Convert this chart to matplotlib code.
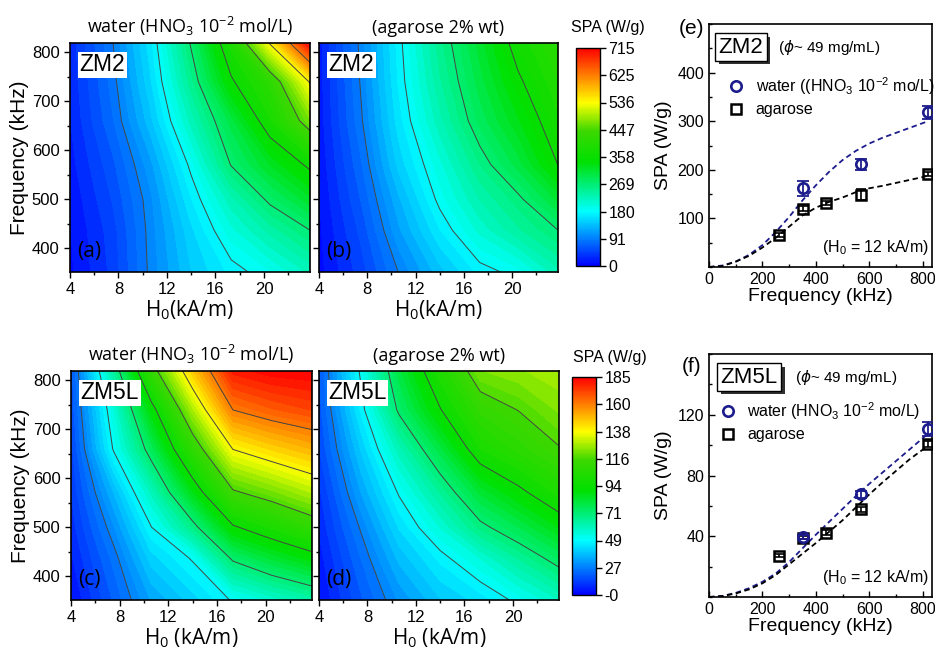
import matplotlib
matplotlib.use("Agg")
import matplotlib.pyplot as plt
import numpy as np
from matplotlib.colors import LinearSegmentedColormap, Normalize
from matplotlib.cm import ScalarMappable
from matplotlib.ticker import MultipleLocator
from matplotlib.patheffects import withSimplePatchShadow

plt.rcParams['font.family'] = ['Liberation Sans', 'DejaVu Sans']
plt.rcParams['axes.linewidth'] = 1.2

# --- SPA maps: H0 (kA/m) x frequency (kHz) grid, values in W/g ---
h0_grid = [4.0, 7.5, 10.6, 14.0, 17.3, 20.5, 23.8]
freq_grid = [352, 437, 500, 571, 660, 740, 819]

zm2_water_map = [
    [10, 42, 93, 140, 170, 190, 220],
    [12, 45, 95, 150, 200, 235, 268],
    [15, 52, 98, 165, 225, 275, 315],
    [20, 60, 110, 185, 270, 320, 365],
    [25, 75, 135, 222, 300, 380, 470],
    [28, 82, 150, 250, 352, 415, 540],
    [30, 88, 160, 272, 390, 540, 712],
]
zm2_agarose_map = [
    [8, 45, 90, 135, 170, 186, 225],
    [10, 55, 112, 165, 208, 240, 268],
    [12, 65, 125, 185, 230, 262, 310],
    [15, 75, 145, 200, 255, 300, 358],
    [18, 87, 160, 225, 285, 330, 380],
    [19, 92, 168, 240, 300, 352, 395],
    [20, 95, 172, 250, 312, 372, 412],
]
zm5l_water_map = [
    [3, 17, 30, 38, 47, 54, 60],
    [6, 21, 38, 47, 71, 80, 88],
    [8, 26, 46, 66, 91, 100, 109],
    [10, 33, 57, 85, 114, 121, 129],
    [12, 47, 74, 108, 139, 146, 152],
    [14, 52, 88, 128, 162, 168, 172],
    [15, 62, 110, 148, 180, 184, 185],
]
zm5l_agarose_map = [
    [3, 16, 27, 36, 41, 48, 56],
    [5, 20, 34, 44, 53, 63, 73],
    [7, 24, 40, 53, 67, 76, 86],
    [9, 30, 47, 63, 80, 90, 101],
    [13, 37, 58, 78, 99, 107, 115],
    [15, 44, 71, 92, 110, 116, 123],
    [16, 48, 78, 102, 122, 125, 128],
]
zm2_max = 715
zm5l_max = 185
zm2_cbar_labels = ['0', '91', '180', '269', '358', '447', '536', '625', '715']
zm5l_cbar_labels = ['-0', '27', '49', '71', '94', '116', '138', '160', '185']

# --- SPA vs frequency at H0 = 12 kA/m ---
freq_meas = [263, 352, 437, 571, 819]
freq_water = [352, 571, 819]
zm2_water_spa = [162, 211, 318]
zm2_water_err = [15, 11, 14]
zm2_agarose_spa = [66, 120, 131, 149, 192]
zm2_agarose_err = [4, 5, 4, 12, 4]
zm5l_water_spa = [39.6, 67.5, 110.6]
zm5l_water_err = [1.5, 2, 4.5]
zm5l_agarose_spa = [27.3, 39, 42.4, 57.7, 100.8]
zm5l_agarose_err = [1, 1, 1.5, 1.5, 2]

fit_freq = [0, 50, 100, 150, 200, 250, 300, 350, 400, 450, 500, 550, 600,
            650, 700, 750, 800, 820]
zm2_water_fit = [0, 3, 11, 25, 45, 72, 103, 137, 168, 196, 220, 239, 254,
                 266, 276, 286, 296, 300]
zm2_agarose_fit = [0, 2, 11, 23, 40, 60, 83, 106, 122, 134, 143, 154, 162,
                   167, 173, 179, 185, 188]
zm5l_water_fit = [0, 0.7, 2.7, 5.8, 10, 15.5, 23, 32, 41, 49.5, 58, 66.5,
                  74.5, 82, 89.5, 97, 104.5, 107.5]
zm5l_agarose_fit = [0, 0.6, 2.3, 5, 9, 14.5, 21.5, 28.5, 35.5, 43, 50.5, 59,
                    67.5, 75.5, 83, 90.5, 97, 99.5]

navy = '#1c1c8c'
rainbow = LinearSegmentedColormap.from_list(
    'origin_rainbow',
    [(0.0, '#0000ff'), (0.25, '#00ffff'), (0.48, '#00e000'),
     (0.62, '#3cd800'), (0.75, '#ffff00'), (1.0, '#ff0000')])

fig = plt.figure(figsize=(9.35, 6.5), dpi=100)


def px_axes(left, top, right, bottom):
    return fig.add_axes([left / 935, 1 - bottom / 650,
                         (right - left) / 935, (bottom - top) / 650])


def draw_map(ax, spa, vmax, title, tag, letter, xlabel, first):
    hh, ff = np.meshgrid(h0_grid, freq_grid)
    z = np.array(spa, dtype=float)
    ax.contourf(hh, ff, z, levels=np.linspace(0, vmax, 57), cmap=rainbow,
                vmin=0, vmax=vmax)
    ax.contour(hh, ff, z, levels=np.linspace(0, vmax, 9)[1:-1],
               colors='#454545', linewidths=0.7)
    ax.set_xlim(h0_grid[0], h0_grid[-1])
    ax.set_ylim(freq_grid[0], freq_grid[-1])
    ax.set_xticks([4, 8, 12, 16, 20])
    ax.set_yticks([400, 500, 600, 700, 800])
    ax.xaxis.set_minor_locator(MultipleLocator(2))
    ax.yaxis.set_minor_locator(MultipleLocator(50))
    ax.tick_params(which='both', direction='out', labelsize=12, width=1)
    ax.tick_params(which='major', length=4)
    ax.tick_params(which='minor', length=2.5)
    if first:
        ax.set_ylabel('Frequency (kHz)', fontsize=15, labelpad=2)
    else:
        ax.tick_params(labelleft=False)
    ax.set_xlabel(xlabel, fontsize=15, family='Open Sans', labelpad=1)
    ax.set_title(title, fontsize=13, family='Open Sans', pad=7)
    ax.text(0.04, 0.905, tag, transform=ax.transAxes, fontsize=16.5,
            ha='left', va='center',
            bbox=dict(boxstyle='square,pad=0.06', fc='white', ec='none'))
    ax.text(0.03, 0.09, letter, transform=ax.transAxes, fontsize=15,
            family='Open Sans', ha='left', va='center')


def draw_cbar(cax, vmax, labels, tx, ty):
    sm = ScalarMappable(norm=Normalize(0, vmax), cmap=rainbow)
    cb = fig.colorbar(sm, cax=cax, ticks=np.linspace(0, vmax, 9))
    cb.set_ticklabels(labels)
    cb.outline.set_linewidth(1)
    cax.tick_params(direction='out', length=4, width=1, labelsize=11.5, pad=2)
    cax.text(tx, ty, 'SPA (W/g)', transform=cax.transAxes, fontsize=11.5,
             ha='center', va='center')


def draw_scan(ax, ymax, yticks, ystep, water_spa, water_err, agar_spa, agar_err,
              water_fit, agar_fit, tag, tag_x, water_label, leg_x, leg_y,
              phi_x, letter, letter_y):
    ax.plot(fit_freq, water_fit, color=navy, lw=1.3, ls=(0, (3, 2)), zorder=2)
    ax.plot(fit_freq, agar_fit, color='black', lw=1.3, ls=(0, (3, 2)), zorder=2)
    ax.errorbar(freq_meas, agar_spa, yerr=agar_err, fmt='none', ecolor='black',
                elinewidth=1.2, capsize=3.5, capthick=1.2, zorder=3)
    ax.errorbar(freq_water, water_spa, yerr=water_err, fmt='none', ecolor=navy,
                elinewidth=1.3, capsize=4, capthick=1.3, zorder=4)
    agar, = ax.plot(freq_meas, agar_spa, 's', mfc='none', mec='black', ms=6.5,
                    mew=1.8, zorder=3, label='agarose')
    water, = ax.plot(freq_water, water_spa, 'o', mfc='none', mec=navy, ms=7.5,
                     mew=1.9, zorder=4, label=water_label)
    ax.set_xlim(0, 835)
    ax.set_ylim(0, ymax)
    ax.set_xticks([0, 200, 400, 600, 800])
    ax.set_yticks(yticks)
    ax.xaxis.set_minor_locator(MultipleLocator(100))
    ax.yaxis.set_minor_locator(MultipleLocator(ystep))
    ax.tick_params(which='both', direction='in', labelsize=11.5, width=1)
    ax.tick_params(which='major', length=4.5)
    ax.tick_params(which='minor', length=2.5)
    ax.set_xlabel('Frequency (kHz)', fontsize=14, labelpad=1)
    ax.set_ylabel('SPA (W/g)', fontsize=14, labelpad=4)
    ax.legend(handles=[water, agar], loc='upper left',
              bbox_to_anchor=(leg_x, leg_y), frameon=False, fontsize=11.5,
              borderaxespad=0, borderpad=0, handlelength=1.2,
              handletextpad=0.6, labelspacing=0.35)
    box = ax.text(tag_x, 0.905, tag, transform=ax.transAxes, fontsize=16,
                  ha='center', va='center', zorder=6,
                  bbox=dict(boxstyle='square,pad=0.15', fc='white',
                            ec='black', lw=1))
    box.get_bbox_patch().set_path_effects(
        [withSimplePatchShadow(offset=(2.5, -2.5), shadow_rgbFace='#303030',
                               alpha=1.0)])
    ax.text(phi_x, 0.905, r'($\phi$~ 49 mg/mL)', transform=ax.transAxes,
            fontsize=11, ha='left', va='center')
    ax.text(0.985, 0.08, r'(H$\mathregular{_0}$ = 12 kA/m)',
            transform=ax.transAxes, fontsize=11.5, ha='right', va='center')
    ax.text(-0.08, letter_y, letter, transform=ax.transAxes, fontsize=15,
            ha='center', va='center')


ax_a = px_axes(70, 43, 310, 272)
ax_b = px_axes(319, 43, 558, 272)
cax1 = px_axes(576, 48, 600, 266)
ax_e = px_axes(709, 24, 932, 267)
ax_c = px_axes(71, 371, 312, 600)
ax_d = px_axes(319, 371, 559, 600)
cax2 = px_axes(572, 377, 596, 595)
ax_f = px_axes(709, 354, 932, 597)

water_title = r'water (HNO$\mathregular{_3}$ 10$\mathregular{^{-2}}$ mol/L)'
draw_map(ax_a, zm2_water_map, zm2_max, water_title, 'ZM2', '(a)',
         r'H$\mathregular{_0}$(kA/m)', True)
draw_map(ax_b, zm2_agarose_map, zm2_max, '(agarose 2% wt)', 'ZM2', '(b)',
         r'H$\mathregular{_0}$(kA/m)', False)
draw_map(ax_c, zm5l_water_map, zm5l_max, water_title, 'ZM5L', '(c)',
         r'H$\mathregular{_0}$ (kA/m)', True)
draw_map(ax_d, zm5l_agarose_map, zm5l_max, '(agarose 2% wt)', 'ZM5L', '(d)',
         r'H$\mathregular{_0}$ (kA/m)', False)

draw_cbar(cax1, zm2_max, zm2_cbar_labels, 1.33, 1.095)
draw_cbar(cax2, zm5l_max, zm5l_cbar_labels, 1.58, 1.09)

draw_scan(ax_e, 500, [100, 200, 300, 400], 50, zm2_water_spa, zm2_water_err,
          zm2_agarose_spa, zm2_agarose_err, zm2_water_fit, zm2_agarose_fit,
          'ZM2', 0.144,
          r'water ((HNO$\mathregular{_3}$ 10$\mathregular{^{-2}}$ mo/L)',
          0.08, 0.79, 0.31, '(e)', 0.983)
draw_scan(ax_f, 160, [40, 80, 120], 20, zm5l_water_spa, zm5l_water_err,
          zm5l_agarose_spa, zm5l_agarose_err, zm5l_water_fit, zm5l_agarose_fit,
          'ZM5L', 0.18,
          r'water (HNO$\mathregular{_3}$ 10$\mathregular{^{-2}}$ mo/L)',
          0.042, 0.81, 0.386, '(f)', 0.947)

fig.savefig('out.png', dpi=100)
